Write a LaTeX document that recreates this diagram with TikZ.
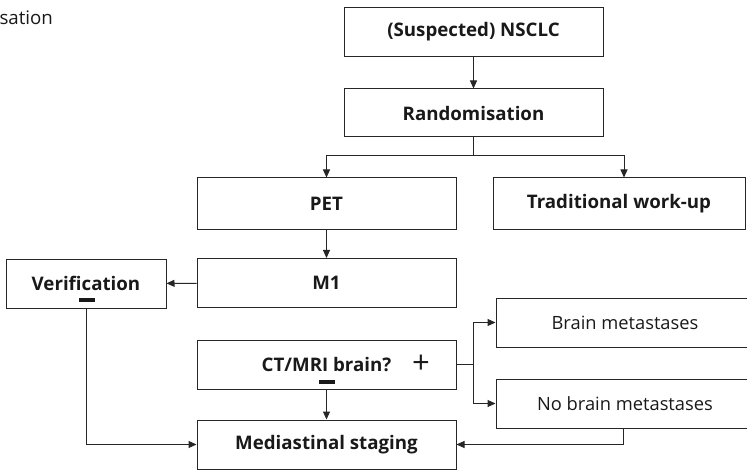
\documentclass[tikz,border=0pt]{standalone}
\usepackage{fontspec}
\setmainfont{Open Sans}
\usetikzlibrary{arrows.meta}
\begin{document}
\begin{tikzpicture}[x=1pt, y=-1pt, >={Triangle[length=8pt,width=7pt]}, line width=1pt, draw=black!85]

      \tikzset{box/.style={draw, rectangle, inner sep=0pt, minimum width=259pt, minimum height=49pt, text=black!90, font=\fontsize{18.7}{22}\selectfont\bfseries}}
      \tikzset{outcome/.style={box, minimum width=258pt, font=\fontsize{18.3}{22}\selectfont}}
      \tikzset{sign/.style={inner sep=0pt, text=black!90}}
      \useasboundingbox (0,0) rectangle (747,473);
      \clip (0,0) rectangle (747,473);
%% Boxes
      	\node[anchor=base west, inner sep=0pt, text=black!90, font=\fontsize{18.7}{22}\selectfont] (title) at (-1,25) {sation};
      	\node[box] (nsclc) at (473.5,32) {(Suspected) NSCLC};
      	\node[box, minimum height=48pt] (rand) at (473.5,113) {Randomisation};
      	\node[box, minimum height=52pt] (pet) at (326.5,204) {PET};
      	\node[box, minimum width=252pt, minimum height=52pt] (trad) at (619,204) {Traditional work-up};
      	\node[box] (m1) at (326.5,283) {M1};
      	\node[box, minimum width=160pt] (verif) at (86,283.5) {Verification};
      	\node[box] (ct) at (326.5,364.5) {CT/MRI brain?};
      	\node[box] (med) at (326.5,444.5) {Mediastinal staging};
      	\node[outcome] (brain) at (625,322.5) {Brain metastases};
      	\node[outcome] (nobrain) at (625,403.5) {No brain metastases};
%Signs
      	\node[sign] (vminus) at (87,300) {\rule{16pt}{3.5pt}};
      	\node[sign] (ctminus) at (327,382) {\rule{16pt}{3.5pt}};
      	\node[sign, font=\fontsize{31}{31}\selectfont] (ctplus) at (421,364) {+};
      	\coordinate (split) at (473.5,156);
      	\coordinate (fork) at (473,364.5);
%Edges
		\path [->] (nsclc) edge (rand);
		\draw [->] (rand.south) -- (split) -| (pet.north);
		\draw [->] (rand.south) -- (split) -| ([xshift=5pt]trad.north);
		\path [->] (pet) edge (m1);
		\path [->] (m1) edge (verif);
		\path [->] (ct) edge (med);
		\draw [->] (ct.east) -- (fork) |- (brain.west);
		\draw [->] (ct.east) -- (fork) |- (nobrain.west);
		\draw [->] (verif.south) |- (med.west);
		\draw [->] ([xshift=-2pt]nobrain.south) |- (med.east);

\end{tikzpicture}
\end{document}
